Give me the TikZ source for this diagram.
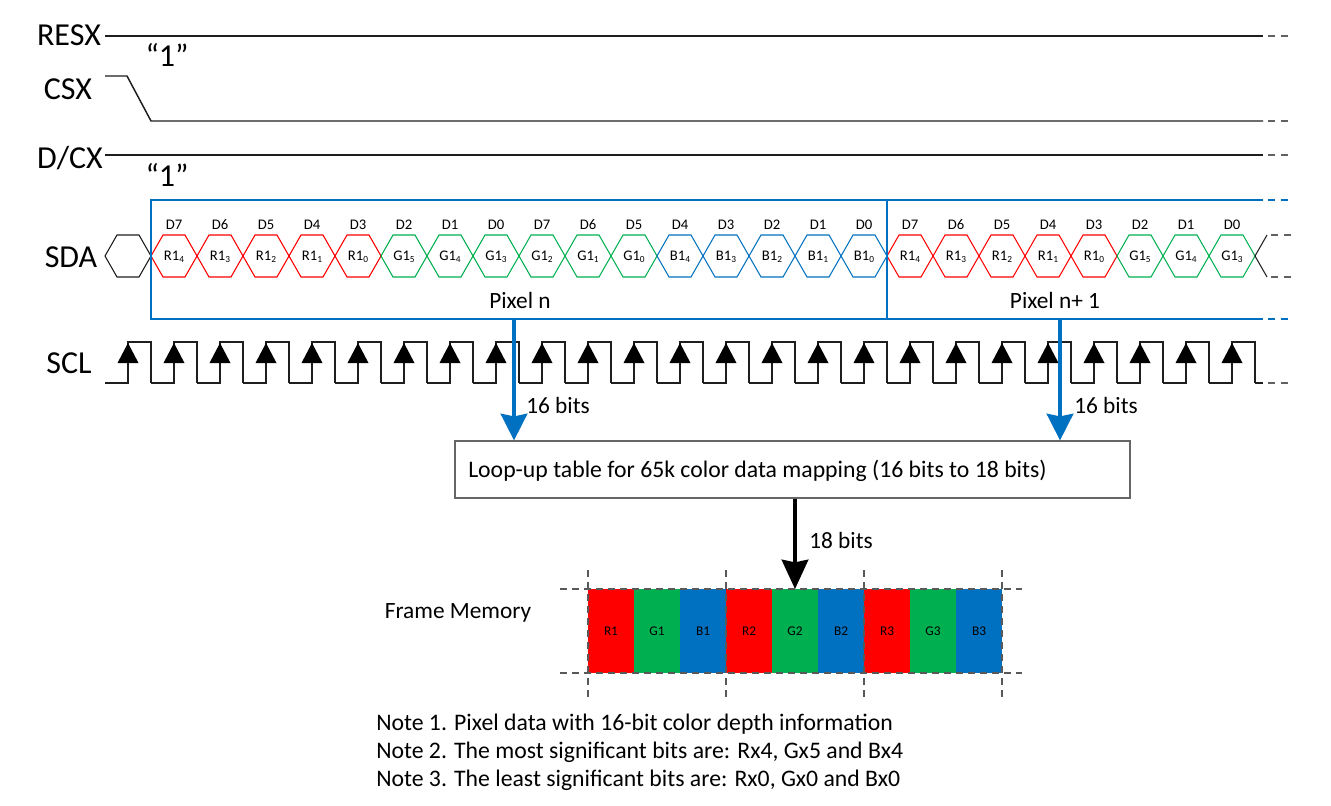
\documentclass[tikz,border=0pt]{standalone}
\usepackage{fontspec}
\setmainfont{Carlito}
\usetikzlibrary{arrows.meta}
\definecolor{hred}{RGB}{255,0,0}
\definecolor{hgreen}{RGB}{0,176,80}
\definecolor{hblue}{RGB}{0,112,192}
\definecolor{sig}{RGB}{30,30,30}
\tikzset{
  sigline/.style={draw=sig, line width=1.1pt},
  sigdash/.style={draw=sig!70, line width=1.1pt, dash pattern=on 5.5pt off 4pt},
  bluebox/.style={draw=hblue, line width=1.6pt},
  bluedash/.style={draw=hblue, line width=1.6pt, dash pattern=on 5.5pt off 4pt},
  signame/.style={font=\fontsize{24}{26}\selectfont, inner sep=0pt},
  qt/.style={font=\fontsize{24}{26}\selectfont, inner sep=0pt},
  dlab/.style={font=\fontsize{11}{12}\selectfont, inner sep=0pt},
  hlab/.style={font=\fontsize{11}{12}\selectfont, inner sep=0pt},
  midtxt/.style={font=\fontsize{17.5}{20}\selectfont, inner sep=0pt},
  notetxt/.style={font=\fontsize{17.8}{20}\selectfont, inner sep=0pt, anchor=west},
  bigblue/.style={draw=hblue, line width=2.4pt, -{Stealth[length=20pt,width=20pt,inset=2pt]}},
  bigblack/.style={draw=black, line width=2.4pt, -{Stealth[length=22pt,width=20pt,inset=2pt]}},
  cell/.style={minimum width=34.5pt, minimum height=63pt, inner sep=0pt, draw=none, font=\fontsize{10}{11}\selectfont},
  fmdash/.style={draw=black!65, line width=0.8pt, dash pattern=on 5pt off 4pt}
}
\begin{document}
\begin{tikzpicture}[x=0.75pt,y=-0.75pt]
\useasboundingbox (0,0) rectangle (1331,806);

% ---- signal names
\node[signame] (resx) at (69,35) {RESX};
\node[signame] (csx) at (68,89) {CSX};
\node[signame] (dcx) at (70,158) {D/CX};
\node[signame] (sda) at (71,257) {SDA};
\node[signame] (scl) at (69,363) {SCL};
\node[qt] (q1) at (167,55) {“1”};
\node[qt] (q2) at (167,175) {“1”};

% ---- RESX, CSX, D/CX lines
\draw[sigline] (105,36) -- (1263,36);
\draw[sigdash] (1268,36) -- (1292,36);
\draw[sigline] (105,76) -- (127,76) -- (151,121) -- (1263,121);
\draw[sigdash] (1268,121) -- (1292,121);
\draw[sigline] (105,155) -- (1263,155);
\draw[sigdash] (1268,155) -- (1292,155);

% ---- SDA hexagons
\draw[sigline, line width=0.8pt] (105,256) -- (117,235) -- (139,235) -- (151,256) -- (139,277) -- (117,277) -- cycle;
\foreach \lt/\sb/\col/\d [count=\i from 0] in {
  R/4/hred/D7, R/3/hred/D6, R/2/hred/D5, R/1/hred/D4, R/0/hred/D3,
  G/5/hgreen/D2, G/4/hgreen/D1, G/3/hgreen/D0,
  G/2/hgreen/D7, G/1/hgreen/D6, G/0/hgreen/D5,
  B/4/hblue/D4, B/3/hblue/D3, B/2/hblue/D2, B/1/hblue/D1, B/0/hblue/D0,
  R/4/hred/D7, R/3/hred/D6, R/2/hred/D5, R/1/hred/D4, R/0/hred/D3,
  G/5/hgreen/D2, G/4/hgreen/D1, G/3/hgreen/D0}
{
  \pgfmathsetmacro\L{151+46*\i}
  \pgfmathsetmacro\C{174+46*\i}
  \draw[draw=\col, line width=0.8pt] (\L,256) -- ({\L+12},235) -- ({\L+34},235) -- ({\L+46},256) -- ({\L+34},277) -- ({\L+12},277) -- cycle;
  \node[dlab] (d\i) at (\C,225) {\d};
  \node[hlab] (h\i) at (\C,257) {\lt1\raisebox{-0.35ex}{\fontsize{7}{8}\selectfont\sb}};
}
\draw[sigline, line width=0.8pt] (1267,235) -- (1255,256) -- (1267,277);
\draw[sigdash, line width=0.8pt] (1271,235) -- (1292,235);
\draw[sigdash, line width=0.8pt] (1271,277) -- (1292,277);

% ---- blue pixel box
\draw[bluebox] (1263,200) -- (151,200) -- (151,319) -- (1263,319);
\draw[bluebox] (887,200) -- (887,319);
\draw[bluedash] (1268,200) -- (1292,200);
\draw[bluedash] (1268,319) -- (1292,319);
\node[midtxt] (pixn) at (520,300) {Pixel n};
\node[midtxt] (pixn1) at (1055,300) {Pixel n+ 1};

% ---- SCL
\foreach \k in {0,...,24}{
  \pgfmathsetmacro\X{128+46*\k}
  \draw[sigline, line width=0.9pt, line join=miter] ({\X-23},383) -- (\X,383) -- (\X,342) -- ({\X+23},342) -- ({\X+23},383);
  \fill[black] (\X,343) -- ({\X-10.5},363) -- ({\X+10.5},363) -- cycle;
}
\draw[sigline, line width=0.9pt] (1255,383) -- (1263,383);
\draw[sigdash, line width=0.9pt] (1268,383) -- (1292,383);

% ---- lookup table
\node[draw=black!60, line width=0.9pt, minimum width=506.25pt, minimum height=42.75pt, inner sep=0pt] (lut) at (792.5,469.5) {};
\node[font=\fontsize{17.8}{20}\selectfont, inner sep=0pt, anchor=west] (luttxt) at (468,471)
  {Loop-up table for 65k color data mapping (16 bits to 18 bits)};
\coordinate (an) at (514,319);
\coordinate (an1) at (1060,319);
\draw[bigblue] (an) -- (an |- lut.north);
\draw[bigblue] (an1) -- (an1 |- lut.north);
\node[midtxt] (b16a) at (558,405) {16 bits};
\node[midtxt] (b16b) at (1106,405) {16 bits};

% ---- frame memory
\foreach \lab/\col [count=\j from 0] in {R1/hred, G1/hgreen, B1/hblue, R2/hred, G2/hgreen, B2/hblue, R3/hred, G3/hgreen, B3/hblue}{
  \node[cell, fill=\col] (c\j) at ({611+46*\j},631) {\lab};
}
\coordinate (fmtop) at (795,589);
\draw[bigblack] (lut.south -| fmtop) -- (fmtop);
\node[midtxt] (b18) at (841,540) {18 bits};
\node[midtxt] (fm) at (458,613) {Frame Memory};
\draw[fmdash] (560,589) -- (1022,589);
\draw[fmdash] (560,673) -- (1022,673);
\foreach \vx in {588,726,864,1002}{
  \draw[fmdash] (\vx,570) -- (\vx,697);
}

% ---- notes
\node[notetxt] (n1) at (376,724) {Note 1. Pixel data with 16-bit color depth information};
\node[notetxt] (n2) at (376,752) {Note 2. The most significant bits are: Rx4, Gx5 and Bx4};
\node[notetxt] (n3) at (376,780) {Note 3. The least significant bits are: Rx0, Gx0 and Bx0};
\end{tikzpicture}
\end{document}
